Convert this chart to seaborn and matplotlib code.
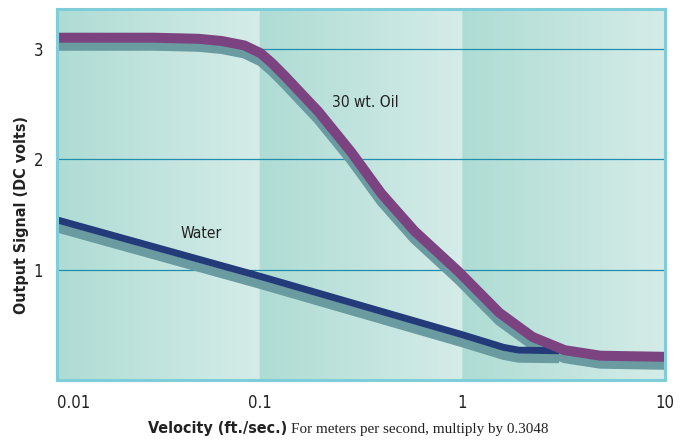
import numpy as np
import pandas as pd
import matplotlib
matplotlib.use("Agg")
import matplotlib.pyplot as plt
import matplotlib.transforms as mtransforms
import seaborn as sns

# ---- data ----
oil_x = [0.01, 0.03, 0.05, 0.065, 0.084, 0.101, 0.115, 0.132, 0.195, 0.284, 0.398, 0.58, 0.96, 1.52, 2.22, 3.2, 4.8, 10.0]
oil_y = [3.10, 3.10, 3.09, 3.07, 3.03, 2.96, 2.87, 2.76, 2.43, 2.06, 1.69, 1.35, 0.98, 0.61, 0.39, 0.27, 0.22, 0.21]
water_x = [0.01, 0.1, 1.0, 1.6, 1.9, 3.0]
water_y = [1.45, 0.94, 0.41, 0.295, 0.27, 0.265]
x_ticks = [0.01, 0.1, 1, 10]
x_tick_labels = ["0.01", "0.1", "1", "10"]
y_ticks = [1, 2, 3]
y_tick_labels = ["1", "2", "3"]

sns.set_theme(style="white")
plt.rcParams["font.family"] = ["DejaVu Sans"]
plt.rcParams["font.stretch"] = "condensed"
serif = ["Liberation Serif", "DejaVu Serif"]

fig = plt.figure(figsize=(6.86, 4.41), dpi=100)
ax = fig.add_axes([57 / 686, 1 - 380 / 441, (665 - 57) / 686, (380 - 9) / 441])

ax.set_xscale("log")
ax.set_xlim(0.01, 10)
ax.set_ylim(0, 3.36)

# background gradient panels per decade
c_left = np.array([174, 220, 212]) / 255
c_right = np.array([213, 236, 232]) / 255
N = 600
t = (np.arange(N) / N * 3) % 1.0
img = c_left[None, :] + (c_right - c_left)[None, :] * t[:, None]
ax.imshow(img[None, :, :], extent=(0, 1, 0, 1), transform=ax.transAxes,
          aspect="auto", zorder=0, interpolation="bilinear")

for yv in y_ticks:
    ax.axhline(yv, color="#1f8db0", lw=0.9, zorder=1)

oil = pd.DataFrame({"x": oil_x, "y": oil_y})
water = pd.DataFrame({"x": water_x, "y": water_y})

shadow = "#6a9ba1"
sh_w = mtransforms.offset_copy(ax.transData, fig=fig, x=0, y=-8, units="dots")
sh_o = mtransforms.offset_copy(ax.transData, fig=fig, x=0, y=-8, units="dots")

sns.lineplot(data=water, x="x", y="y", ax=ax, color=shadow, lw=6.5,
             transform=sh_w, zorder=2, solid_capstyle="butt", solid_joinstyle="round")
sns.lineplot(data=oil, x="x", y="y", ax=ax, color=shadow, lw=7.2,
             transform=sh_o, zorder=3, solid_capstyle="butt", solid_joinstyle="round")
sns.lineplot(data=water, x="x", y="y", ax=ax, color="#243b79", lw=5,
             zorder=4, solid_capstyle="butt", solid_joinstyle="round")
sns.lineplot(data=oil, x="x", y="y", ax=ax, color="#7b4481", lw=7.2,
             zorder=5, solid_capstyle="butt", solid_joinstyle="round")

ax.text(0.228, 2.51, "30 wt. Oil", fontsize=11.2, color="#222222", ha="left", va="center", zorder=6)
ax.text(0.0407, 1.325, "Water", fontsize=11.2, color="#222222", ha="left", va="center", zorder=6)

ax.set_xticks(x_ticks)
ax.set_xticklabels(x_tick_labels)
ax.minorticks_off()
ax.set_yticks(y_ticks)
ax.set_yticklabels(y_tick_labels)
ax.tick_params(axis="both", length=0, labelsize=12, colors="#222222")
ax.tick_params(axis="x", pad=10)
ax.tick_params(axis="y", pad=10)
ax.get_xticklabels()[0].set_ha("left")
ax.set_xlabel("")
ax.set_ylabel("")

for sp in ax.spines.values():
    sp.set_color("#7fcdd8")
    sp.set_linewidth(2.2)
    sp.set_visible(True)
    sp.set_zorder(7)

fig.text(22 / 686, 1 - 215 / 441, "Output Signal (DC volts)", rotation=90,
         fontsize=11.5, fontweight="bold", color="#222222", ha="center", va="center")
fig.text(287 / 686, 1 - 433 / 441, "Velocity (ft./sec.)", fontsize=11.5,
         fontweight="bold", color="#222222", ha="right", va="baseline")
fig.text(291 / 686, 1 - 433 / 441, "For meters per second, multiply by 0.3048",
         fontsize=10.9, family=serif, color="#222222", ha="left", va="baseline")

fig.savefig("out.png", dpi=100)
